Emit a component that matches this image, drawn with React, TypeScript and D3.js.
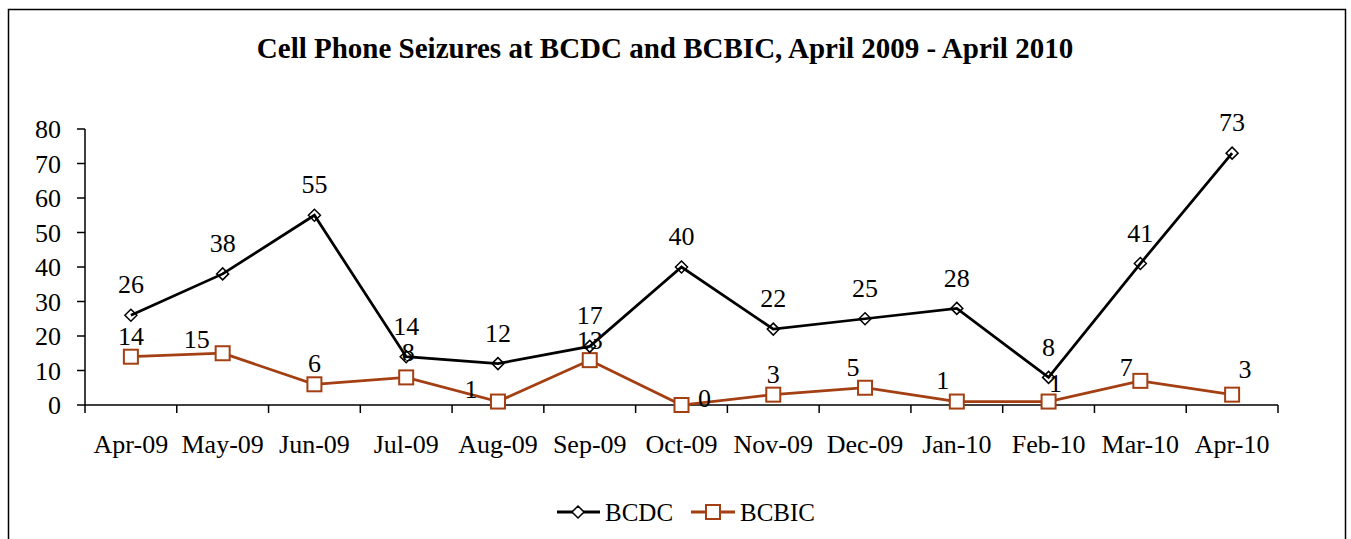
import { useMemo } from 'react'
import { line, scaleBand, scaleLinear } from 'd3'

const months = ['Apr-09', 'May-09', 'Jun-09', 'Jul-09', 'Aug-09', 'Sep-09', 'Oct-09', 'Nov-09', 'Dec-09', 'Jan-10', 'Feb-10', 'Mar-10', 'Apr-10']
const bcdc = [26, 38, 55, 14, 12, 17, 40, 22, 25, 28, 8, 41, 73]
const bcbic = [14, 15, 6, 8, 1, 13, 0, 3, 5, 1, 1, 7, 3]
const yTicks = [0, 10, 20, 30, 40, 50, 60, 70, 80]

// label nudges for BCBIC (px, from the point to the label centre)
const bcbicLabelDx = [0, -26, 0, 2, -27, 0, 23, 0, -12, -14, 7, -14, 13]
const bcbicLabelDy = [-21, -14, -21, -26, -13, -20, -7, -21, -21, -22, -19, -14, -26]

const FONT = '"Liberation Serif", "Times New Roman", serif'
const BROWN = '#A33F12'

// square rotated 45deg
const diamond = (r: number) => `M0,${-r}L${r},0L0,${r}L${-r},0Z`

export default function App() {
  const width = 1351
  const height = 539
  const plot = { left: 85, right: 1278, top: 129, bottom: 405 }

  const x = useMemo(() => scaleBand<string>().domain(months).range([plot.left, plot.right]).padding(0), [])
  const y = useMemo(() => scaleLinear().domain([0, 80]).range([plot.bottom, plot.top]), [])
  const cx = (i: number) => (x(months[i]) ?? 0) + x.bandwidth() / 2

  const path = line<number>()
    .x((_, i) => cx(i))
    .y((d) => y(d))

  const boundaries = months.map((m) => x(m) ?? 0).concat([plot.right])

  return (
    <svg width={width} height={height} style={{ position: 'absolute', left: 0, top: 0, background: '#fff' }} fontFamily={FONT}>
      <rect x={8.5} y={9.5} width={1337} height={560} fill="#fff" stroke="#000" strokeWidth={1.5} />
      <text x={665} y={58} textAnchor="middle" fontSize={29} fontWeight="bold">
        Cell Phone Seizures at BCDC and BCBIC, April 2009 - April 2010
      </text>

      {/* y axis */}
      <line x1={plot.left} x2={plot.left} y1={plot.top} y2={plot.bottom} stroke="#000" strokeWidth={1.5} />
      {yTicks.map((t) => (
        <g key={t}>
          <line x1={plot.left - 8} x2={plot.left} y1={y(t)} y2={y(t)} stroke="#000" strokeWidth={1.5} />
          <text x={61} y={y(t)} dy="0.35em" textAnchor="end" fontSize={26}>
            {t}
          </text>
        </g>
      ))}

      {/* x axis */}
      <line x1={plot.left} x2={plot.right} y1={plot.bottom} y2={plot.bottom} stroke="#000" strokeWidth={1.5} />
      {boundaries.map((b, i) => (
        <line key={i} x1={b} x2={b} y1={plot.bottom} y2={plot.bottom + 8} stroke="#000" strokeWidth={1.5} />
      ))}
      {months.map((m, i) => (
        <text key={m} x={cx(i)} y={453} textAnchor="middle" fontSize={26}>
          {m}
        </text>
      ))}

      {/* BCBIC */}
      <path d={path(bcbic) ?? ''} fill="none" stroke={BROWN} strokeWidth={2.75} />
      {bcbic.map((v, i) => (
        <rect key={i} x={cx(i) - 7} y={y(v) - 7} width={14} height={14} fill="#fff" stroke={BROWN} strokeWidth={2} />
      ))}

      {/* BCDC */}
      {bcdc.map((v, i) => (
        <path key={i} d={diamond(6)} transform={`translate(${cx(i)},${y(v)})`} fill="#fff" stroke="#000" strokeWidth={1.5} />
      ))}
      <path d={path(bcdc) ?? ''} fill="none" stroke="#000" strokeWidth={2.75} />

      {/* labels */}
      {bcdc.map((v, i) => (
        <text key={i} x={cx(i)} y={y(v) - 31} dy="0.35em" textAnchor="middle" fontSize={26}>
          {v}
        </text>
      ))}
      {bcbic.map((v, i) => (
        <text key={i} x={cx(i) + bcbicLabelDx[i]} y={y(v) + bcbicLabelDy[i]} dy="0.35em" textAnchor="middle" fontSize={26}>
          {v}
        </text>
      ))}

      {/* legend */}
      <g transform="translate(557,512)">
        <line x1={0} x2={43} y1={0} y2={0} stroke="#000" strokeWidth={3} />
        <path d={diamond(6)} transform="translate(21,0)" fill="#fff" stroke="#000" strokeWidth={1.5} />
        <text x={48} y={0} dy="0.35em" fontSize={25}>
          BCDC
        </text>
        <line x1={134} x2={178} y1={0} y2={0} stroke={BROWN} strokeWidth={3} />
        <rect x={149} y={-7} width={14} height={14} fill="#fff" stroke={BROWN} strokeWidth={2} />
        <text x={183} y={0} dy="0.35em" fontSize={25}>
          BCBIC
        </text>
      </g>
    </svg>
  )
}
